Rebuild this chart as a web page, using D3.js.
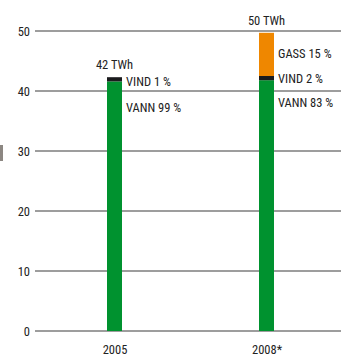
<!DOCTYPE html>
<html><head><meta charset="utf-8">
<script src="https://cdn.jsdelivr.net/npm/d3@7"></script>
<style>
body{margin:0;background:#fff;}
svg text{font-family:"Liberation Sans Narrow","Roboto Condensed","Liberation Sans",sans-serif;fill:#222;}
</style></head>
<body><svg id="c" width="341" height="356"></svg>
<script>
const categories = ["2005", "2008*"];
const vann = [41.6, 41.8];
const vind = [0.7, 0.7];
const gass = [0, 7.2];
const totalLabels = ["42 TWh", "50 TWh"];
const vannLabels = ["VANN 99 %", "VANN 83 %"];
const vindLabels = ["VIND 1 %", "VIND 2 %"];
const gassLabels = ["", "GASS 15 %"];
const yTicks = [0, 10, 20, 30, 40, 50];

const svg = d3.select("#c");
const y = d3.scaleLinear().domain([0, 50]).range([331, 31]);
const x = d3.scalePoint().domain(categories).range([114.5, 266.5]);
const barW = 15;
const fs = 12.5;

// small mark at left
svg.append("rect").attr("x", 0).attr("y", 145).attr("width", 3).attr("height", 16).attr("fill", "#8c8782");

const yAxis = d3.axisLeft(y).tickValues(yTicks).tickSize(0).tickPadding(5);
const gy = svg.append("g").attr("transform", "translate(35,0)").call(yAxis);
gy.select(".domain").remove();
gy.selectAll("text").attr("font-size", fs).attr("font-family", null).style("fill", "#222");

svg.append("g").selectAll("line").data(yTicks).join("line")
  .attr("x1", 35).attr("x2", 341)
  .attr("y1", d => y(d)).attr("y2", d => y(d))
  .attr("stroke", "#7c7c7c").attr("stroke-width", 1.3);

// stacked bars
const rows = categories.map((c, i) => ({c, vann: vann[i], vind: vind[i], gass: gass[i]}));
const keys = ["vann", "vind", "gass"];
const colors = {vann: "#00922f", vind: "#1b1b1d", gass: "#ef8700"};
const stack = d3.stack().keys(keys)(rows);
svg.append("g").selectAll("g").data(stack).join("g")
  .attr("fill", d => colors[d.key])
  .selectAll("rect").data(d => d).join("rect")
  .attr("x", d => x(d.data.c) - barW / 2)
  .attr("width", barW)
  .attr("y", d => y(d[1]))
  .attr("height", d => Math.max(0, y(d[0]) - y(d[1])));

// x labels
const xAxis = d3.axisBottom(x).tickSize(0).tickPadding(0);
const gx = svg.append("g").attr("transform", "translate(0,345)").call(xAxis);
gx.select(".domain").remove();
gx.selectAll("text").attr("font-size", fs).attr("font-family", null).attr("dy", "0.71em").style("fill", "#222");

const tot = categories.map((c, i) => vann[i] + vind[i] + gass[i]);
// total labels
svg.append("g").selectAll("text").data(categories).join("text")
  .attr("x", c => x(c))
  .attr("y", (c, i) => y(tot[i]) - 8)
  .attr("text-anchor", "middle").attr("font-size", fs)
  .text((c, i) => totalLabels[i]);

const lbl = (arr, yf) => svg.append("g").selectAll("text").data(categories).join("text")
  .attr("x", c => x(c) + barW / 2 + 4)
  .attr("y", (c, i) => yf(i))
  .attr("dy", "0.35em").attr("font-size", fs)
  .text((c, i) => arr[i]);

const vannOff = [26, 22];
lbl(vindLabels, i => y(vann[i] + vind[i]) + (i === 0 ? 4 : 3));
lbl(vannLabels, i => y(vann[i]) + vannOff[i]);
lbl(gassLabels, i => y(tot[i]) + 21);
</script></body></html>
